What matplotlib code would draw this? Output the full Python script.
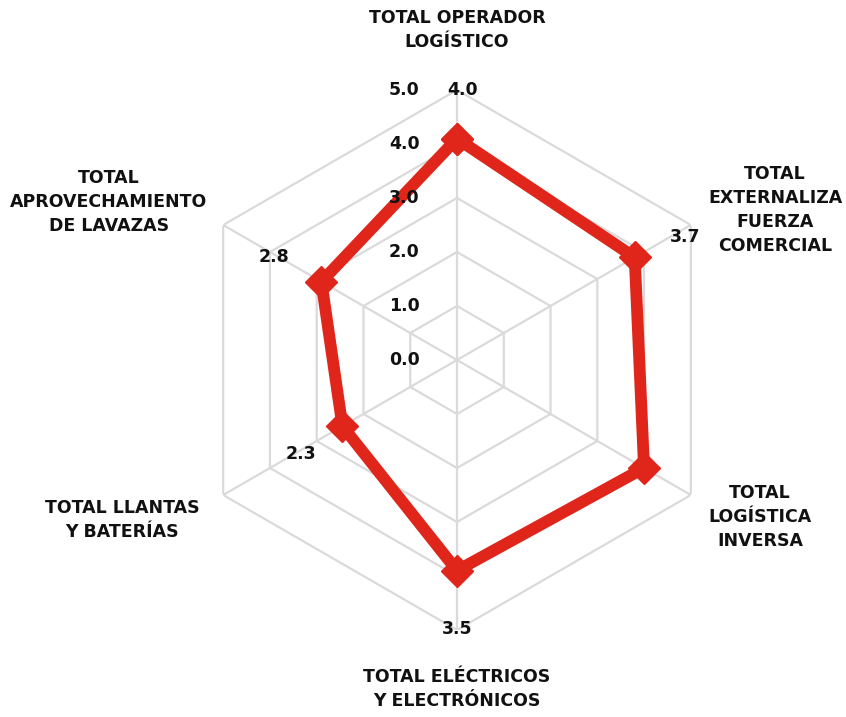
import numpy as np
import matplotlib.pyplot as plt

# categories clockwise from the top
categories = ['TOTAL OPERADOR\nLOGÍSTICO',
              'TOTAL\nEXTERNALIZA\nFUERZA\nCOMERCIAL',
              'TOTAL\nLOGÍSTICA\nINVERSA',
              'TOTAL ELÉCTRICOS\nY ELECTRÓNICOS',
              'TOTAL LLANTAS\nY BATERÍAS',
              'TOTAL\nAPROVECHAMIENTO\nDE LAVAZAS']
values = [4.1, 3.8, 4.0, 3.9, 2.45, 2.9]
value_labels = ['4.0', '3.7', '', '3.5', '2.3', '2.8']
levels = [0, 1, 2, 3, 4, 5]
level_labels = ['0.0', '1.0', '2.0', '3.0', '4.0', '5.0']

RED = '#e0261b'
GRID = '#dadada'
W, H = 846, 717

fig = plt.figure(figsize=(W / 100, H / 100), dpi=100)
cx, cy, R = 457, 360, 270
ax = fig.add_axes([(cx - R) / W, (H - cy - R) / H, 2 * R / W, 2 * R / H], polar=True)
ax.set_theta_offset(np.pi / 2)
ax.set_theta_direction(-1)
ax.set_ylim(0, 5)
ax.axis('off')

n = len(categories)
theta = np.arange(n) * 2 * np.pi / n
closed = np.append(theta, theta[0])

# hexagonal grid
for lv in levels[1:]:
    ax.plot(closed, [lv] * (n + 1), color=GRID, lw=1.6, zorder=1)
for t in theta:
    ax.plot([t, t], [0, levels[-1]], color=GRID, lw=1.6, zorder=1)

# data line
ax.plot(closed, np.append(values, values[0]), color=RED, lw=8.5,
        solid_joinstyle='miter', marker='D', markersize=16, zorder=3)

bold = dict(fontweight='bold', fontsize=12.5, color='#111111', family='DejaVu Sans')

# radial labels along the vertical spoke
for lv, lab in zip(levels, level_labels):
    ax.annotate(lab, xy=(0, lv), xytext=(-38, 0), textcoords='offset points',
                ha='center', va='center', **bold)

# value labels near the points
offsets = [(4, 35), (36, 15), (0, 0), (0, -42), (-30, -20), (-34, 18)]
for t, v, lab, off in zip(theta, values, value_labels, offsets):
    if lab:
        ax.annotate(lab, xy=(t, v), xytext=off, textcoords='offset points',
                    ha='center', va='center', **bold)

# category labels
cat_pos = [(457, 30), (775, 210), (760, 517), (457, 689), (122, 520), (109, 202)]
for lab, (x, y) in zip(categories, cat_pos):
    fig.text(x / W, 1 - y / H, lab, ha='center', va='center',
             linespacing=1.45, **bold)

fig.savefig('out.png', dpi=100)
